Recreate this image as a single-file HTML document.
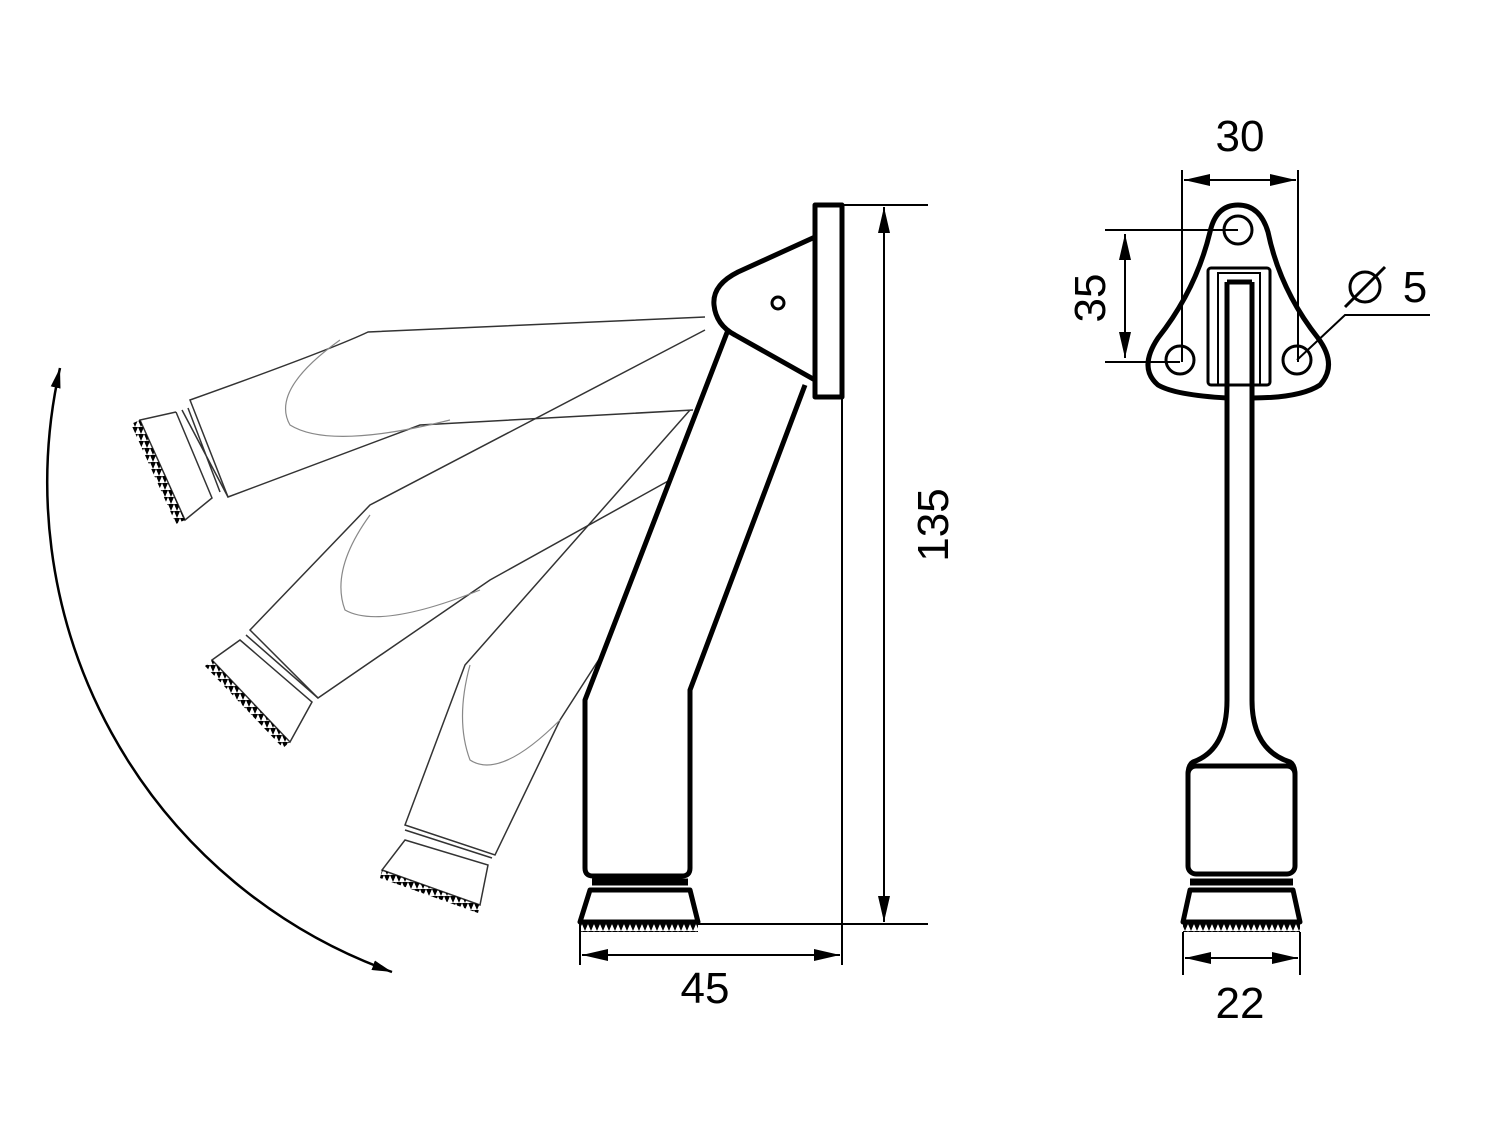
<!DOCTYPE html>
<html><head><style>body{margin:0;background:#fff}svg{display:block}text{font-family:"Liberation Sans",sans-serif;font-size:44px;fill:#000}</style></head>
<body>
<svg width="1500" height="1125" viewBox="0 0 1500 1125" xmlns="http://www.w3.org/2000/svg">
<defs>
<marker id="a" viewBox="0 0 26 12" refX="26" refY="6" markerWidth="26" markerHeight="12" markerUnits="userSpaceOnUse" orient="auto-start-reverse"><path d="M0,0L26,6L0,12z"/></marker>
<marker id="b" viewBox="0 0 20 10" refX="20" refY="5" markerWidth="20" markerHeight="10" markerUnits="userSpaceOnUse" orient="auto-start-reverse"><path d="M0,0L20,5L0,10z"/></marker>
<pattern id="t" width="6" height="7" patternUnits="userSpaceOnUse"><path d="M0,0L3,7L6,0z" fill="#000"/></pattern>
</defs>
<g fill="none" stroke="#000">
<g stroke-width="1.5" stroke="#333">
<path d="M705,317 L368,332 Q330,350 190,400 L228,497 L420,425 L693,410"/>
<path d="M182,410 L228,497 M188,408 L220,492 M176,412 L212,498 L185,520 L140,420 L176,412"/>
<path d="M705,330 L370,505 L250,630 L318,698 L490,580 L670,480"/>
<path d="M246,635 L318,698 M240,640 L312,702 L290,742 L212,660 z"/>
<path d="M690,410 L465,665 L405,825 L495,855 L560,720 L605,650"/>
<path d="M405,830 L492,858 M405,840 L488,865 L480,905 L382,870 z"/>
</g>
<g stroke-width="1.2" stroke="#888">
<path d="M340,340 Q270,390 290,425 Q330,450 450,420"/>
<path d="M370,515 Q330,570 345,610 Q380,630 480,590"/>
<path d="M470,665 Q455,720 470,760 Q500,780 560,720"/>
</g>
<g fill="url(#t)" stroke="none">
<path d="M140,420 L185,520 L176,524 L131,424z"/>
<path d="M212,660 L290,742 L283,748 L205,666z"/>
<path d="M382,870 L480,905 L478,913 L380,878z"/>
</g>
<path d="M60,368 A520 520 0 0 0 392,972" stroke-width="2.5" marker-start="url(#b)" marker-end="url(#b)"/>
<g stroke-width="5" stroke-linejoin="round">
<rect x="815" y="205" width="27" height="192"/>
<path d="M815,237 L738,272 Q712,285 714,305 Q716,325 735,335 L815,380"/>
<path d="M728,330 L585,700 L585,868 Q585,876 593,876 L682,876 Q690,876 690,868 L690,690 L805,385"/>
<path d="M590,890 L580,922 L698,922 L690,890 z"/>
<path d="M592,882 L688,882" stroke-width="7"/>
<rect x="1188" y="766" width="107" height="108" rx="8"/>
</g>
<circle cx="778" cy="303" r="6" stroke-width="3"/>
<rect x="580" y="924" width="118" height="8" fill="url(#t)" stroke="none"/>
<g stroke-width="2">
<path d="M842,205 L928,205 M698,924 L928,924 M842,397 L842,965 M580,924 L580,965"/>
<path d="M884,207 L884,922" marker-start="url(#a)" marker-end="url(#a)"/>
<path d="M582,955 L840,955" marker-start="url(#a)" marker-end="url(#a)"/>
</g>
<g stroke-width="5" stroke-linejoin="round">
<path d="M1238,205 Q1260,205 1268,232 Q1280,290 1318,338 Q1338,365 1320,385 Q1300,398 1252,398 M1227,398 Q1175,395 1158,385 Q1138,368 1158,338 Q1196,290 1210,232 Q1216,205 1238,205"/>
<path d="M1227,282 L1227,398 L1227,700 Q1227,750 1193,762 Q1188,765 1188,775 M1252,282 L1252,398 L1252,700 Q1252,750 1290,762 Q1295,765 1295,775 M1227,282 L1252,282"/>
<path d="M1190,890 L1183,922 L1300,922 L1293,890 z"/>
<path d="M1190,882 L1293,882" stroke-width="7"/>
</g>
<g stroke-width="3">
<rect x="1208" y="268" width="62" height="117" rx="3"/>
<path d="M1218,385 L1218,273 L1260,273 L1260,385" stroke-width="2"/>
<circle cx="1238" cy="230" r="14"/><circle cx="1180" cy="360" r="14"/><circle cx="1297" cy="360" r="14"/>
<circle cx="1365" cy="287" r="15"/><path d="M1345,307 L1385,267"/>
</g>
<rect x="1183" y="924" width="117" height="8" fill="url(#t)" stroke="none"/>
<g stroke-width="2">
<path d="M1182,170 L1182,362 M1298,170 L1298,362 M1105,230 L1238,230 M1105,362 L1180,362 M1297,360 L1345,315 L1430,315 M1183,932 L1183,975 M1300,932 L1300,975"/>
<path d="M1184,180 L1296,180" marker-start="url(#a)" marker-end="url(#a)"/>
<path d="M1125,234 L1125,358" marker-start="url(#a)" marker-end="url(#a)"/>
<path d="M1185,958 L1298,958" marker-start="url(#a)" marker-end="url(#a)"/>
</g>
</g>
<text x="705" y="1003" text-anchor="middle">45</text>
<text transform="translate(948,525) rotate(-90)" text-anchor="middle">135</text>
<text x="1240" y="151" text-anchor="middle">30</text>
<text transform="translate(1105,298) rotate(-90)" text-anchor="middle">35</text>
<text x="1415" y="302" text-anchor="middle">5</text>
<text x="1240" y="1018" text-anchor="middle">22</text>
</svg>
</body></html>
